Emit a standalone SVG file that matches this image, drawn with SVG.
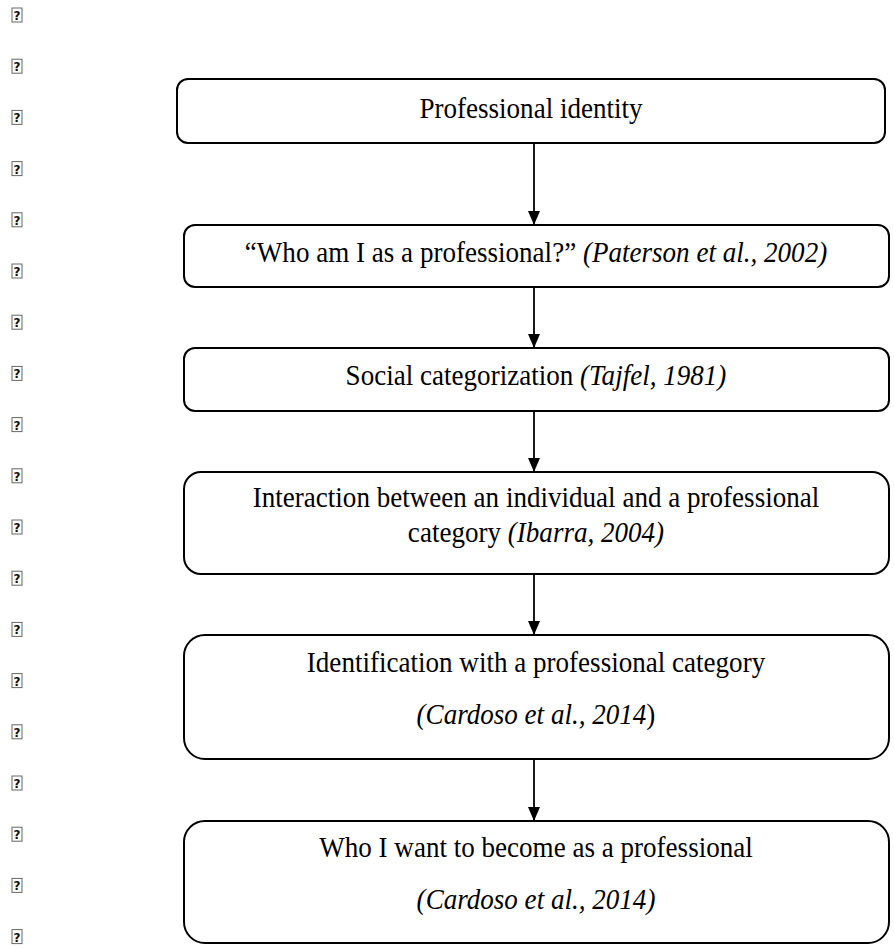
<svg xmlns="http://www.w3.org/2000/svg" width="894" height="948" viewBox="0 0 894 948">
<style>
.box{fill:#fff;stroke:#000;stroke-width:2}
.t{font-family:"Liberation Serif","Times New Roman",serif;font-size:28.5px;fill:#000;text-anchor:middle}
.i{font-style:italic}
.tofu rect{fill:#fff;stroke:#666;stroke-width:1}
.tofu text{font-family:"DejaVu Sans",sans-serif;font-size:12px;font-weight:bold;fill:#111;text-anchor:middle}
.conn line{stroke:#000;stroke-width:1.8}
</style>
<defs>
<marker id="arr" markerWidth="14" markerHeight="12" refX="14" refY="6" orient="auto" markerUnits="userSpaceOnUse" viewBox="0 0 14 12">
<path d="M0,0 L14,6 L0,12 Z" fill="#000"/>
</marker>
</defs>
<rect width="894" height="948" fill="#fff"/>
<g id="tofu-column" class="tofu">
<g transform="translate(12,8)"><rect x="0" y="0" width="10" height="14"/><text x="5" y="12">?</text></g>
<g transform="translate(12,59.2)"><rect x="0" y="0" width="10" height="14"/><text x="5" y="12">?</text></g>
<g transform="translate(12,110.4)"><rect x="0" y="0" width="10" height="14"/><text x="5" y="12">?</text></g>
<g transform="translate(12,161.6)"><rect x="0" y="0" width="10" height="14"/><text x="5" y="12">?</text></g>
<g transform="translate(12,212.8)"><rect x="0" y="0" width="10" height="14"/><text x="5" y="12">?</text></g>
<g transform="translate(12,264)"><rect x="0" y="0" width="10" height="14"/><text x="5" y="12">?</text></g>
<g transform="translate(12,315.2)"><rect x="0" y="0" width="10" height="14"/><text x="5" y="12">?</text></g>
<g transform="translate(12,366.4)"><rect x="0" y="0" width="10" height="14"/><text x="5" y="12">?</text></g>
<g transform="translate(12,417.6)"><rect x="0" y="0" width="10" height="14"/><text x="5" y="12">?</text></g>
<g transform="translate(12,468.8)"><rect x="0" y="0" width="10" height="14"/><text x="5" y="12">?</text></g>
<g transform="translate(12,520)"><rect x="0" y="0" width="10" height="14"/><text x="5" y="12">?</text></g>
<g transform="translate(12,571.2)"><rect x="0" y="0" width="10" height="14"/><text x="5" y="12">?</text></g>
<g transform="translate(12,622.4)"><rect x="0" y="0" width="10" height="14"/><text x="5" y="12">?</text></g>
<g transform="translate(12,673.6)"><rect x="0" y="0" width="10" height="14"/><text x="5" y="12">?</text></g>
<g transform="translate(12,724.8)"><rect x="0" y="0" width="10" height="14"/><text x="5" y="12">?</text></g>
<g transform="translate(12,776)"><rect x="0" y="0" width="10" height="14"/><text x="5" y="12">?</text></g>
<g transform="translate(12,827.2)"><rect x="0" y="0" width="10" height="14"/><text x="5" y="12">?</text></g>
<g transform="translate(12,878.4)"><rect x="0" y="0" width="10" height="14"/><text x="5" y="12">?</text></g>
<g transform="translate(12,929.6)"><rect x="0" y="0" width="10" height="14"/><text x="5" y="12">?</text></g>
</g>
<g id="connectors" class="conn">
<line x1="534" y1="143" x2="534" y2="225" marker-end="url(#arr)"/>
<line x1="534" y1="287" x2="534" y2="348" marker-end="url(#arr)"/>
<line x1="534" y1="411" x2="534" y2="472" marker-end="url(#arr)"/>
<line x1="534" y1="574" x2="534" y2="635" marker-end="url(#arr)"/>
<line x1="534" y1="759" x2="534" y2="821" marker-end="url(#arr)"/>
</g>
<g id="node1">
<rect class="box" x="177" y="79" width="708" height="64" rx="11" ry="11"/>
<text class="t" transform="translate(531,118) scale(0.95,1)">Professional identity</text>
</g>
<g id="node2">
<rect class="box" x="184" y="225" width="705" height="62" rx="11" ry="11"/>
<text class="t" transform="translate(536,262) scale(0.95,1)">“Who am I as a professional?” <tspan class="i">(Paterson et al., 2002)</tspan></text>
</g>
<g id="node3">
<rect class="box" x="184" y="348" width="705" height="63" rx="11" ry="11"/>
<text class="t" transform="translate(536,385) scale(0.95,1)">Social categorization <tspan class="i">(Tajfel, 1981)</tspan></text>
</g>
<g id="node4">
<rect class="box" x="184" y="472" width="705" height="102" rx="17" ry="17"/>
<text class="t" transform="translate(536,507) scale(0.95,1)">Interaction between an individual and a professional</text>
<text class="t" transform="translate(536,542) scale(0.95,1)">category <tspan class="i">(Ibarra, 2004)</tspan></text>
</g>
<g id="node5">
<rect class="box" x="184" y="635" width="705" height="124" rx="21" ry="21"/>
<text class="t" transform="translate(536,672) scale(0.95,1)">Identification with a professional category</text>
<text class="t" transform="translate(536,724) scale(0.95,1)"><tspan class="i">(Cardoso et al., 2014</tspan>)</text>
</g>
<g id="node6">
<rect class="box" x="184" y="821" width="705" height="122" rx="21" ry="21"/>
<text class="t" transform="translate(536,857) scale(0.95,1)">Who I want to become as a professional</text>
<text class="t i" transform="translate(536,909) scale(0.95,1)">(Cardoso et al., 2014)</text>
</g>
</svg>
